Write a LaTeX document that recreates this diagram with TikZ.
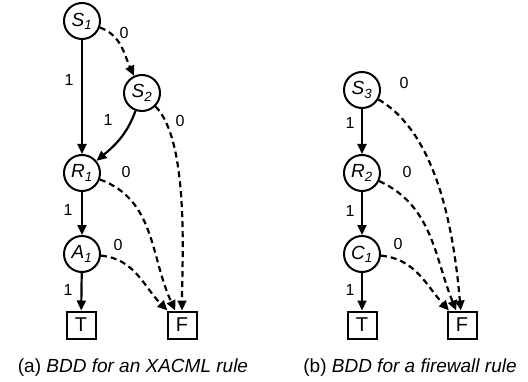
\documentclass[tikz,border=0pt]{standalone}
\usepackage{fontspec}
\setmainfont{Liberation Sans}
\usetikzlibrary{arrows.meta}
\begin{document}
\begin{tikzpicture}[x=1pt,y=1pt,
  vnode/.style={circle, draw, line width=2pt, minimum size=36pt, inner sep=0pt, font=\fontsize{19}{22}\selectfont\itshape},
  leaf/.style={rectangle, draw, line width=2pt, minimum width=29pt, minimum height=27pt, inner sep=0pt, font=\fontsize{20}{22}\selectfont},
  lab/.style={font=\fontsize{16}{18}\selectfont, inner sep=0pt},
  captext/.style={font=\fontsize{19}{22}\selectfont, inner sep=0pt},
  one/.style={line width=2.2pt, -{Triangle[length=10pt,width=9pt]}},
  zero/.style={line width=2.2pt, dash pattern=on 6pt off 4pt, -{Triangle[length=10pt,width=9pt]}}]
\useasboundingbox (0,0) rectangle (528,381);
% left BDD
\node[vnode] (S1) at (82,360) {S\textsubscript{1}};
\node[vnode] (S2) at (142,288) {S\textsubscript{2}};
\node[vnode] (R1) at (82,208) {R\textsubscript{1}};
\node[vnode] (A1) at (82,127) {A\textsubscript{1}};
\node[leaf] (T1) at (81,56) {T};
\node[leaf] (F1) at (182,56) {F};
% right BDD
\node[vnode] (S3) at (362,291) {S\textsubscript{3}};
\node[vnode] (R2) at (362,208) {R\textsubscript{2}};
\node[vnode] (C1) at (362,127) {C\textsubscript{1}};
\node[leaf] (T2) at (362,56) {T};
\node[leaf] (F2) at (462,56) {F};
% left edges
\draw[one] (S1) -- (R1);
\draw[one] (S2) to[out=-110,in=40] (R1);
\draw[one] (R1) -- (A1);
\draw[one] (A1) -- (T1);
\draw[zero] (S1) to[out=-20,in=115] (S2);
\draw[zero] (S2) to[out=-45,in=90,looseness=0.6] (F1);
\draw[zero] (R1) to[out=-20,in=115] (F1);
\draw[zero] (A1) to[out=-5,in=135] (F1);
% right edges
\draw[one] (S3) -- (R2);
\draw[one] (R2) -- (C1);
\draw[one] (C1) -- (T2);
\draw[zero] (S3) to[out=-30,in=95,looseness=0.8] (F2);
\draw[zero] (R2) to[out=-25,in=112] (F2);
\draw[zero] (C1) to[out=-5,in=132] (F2);
% labels
\node[lab] (l1) at (69,301) {1};
\node[lab] (l2) at (124,348) {0};
\node[lab] (l3) at (180,260) {0};
\node[lab] (l4) at (108,261) {1};
\node[lab] (l5) at (126,209) {0};
\node[lab] (l6) at (68,171) {1};
\node[lab] (l7) at (118,136) {0};
\node[lab] (l8) at (68,91) {1};
\node[lab] (m1) at (404,298) {0};
\node[lab] (m2) at (350,258) {1};
\node[lab] (m3) at (407,209) {0};
\node[lab] (m4) at (350,170) {1};
\node[lab] (m5) at (398,137) {0};
\node[lab] (m6) at (350,91) {1};
% captions
\node[captext] (capa) at (133,13) {(a) \textit{BDD for an XACML rule}};
\node[captext] (capb) at (410,13) {(b) \textit{BDD for a firewall rule}};
\end{tikzpicture}
\end{document}
